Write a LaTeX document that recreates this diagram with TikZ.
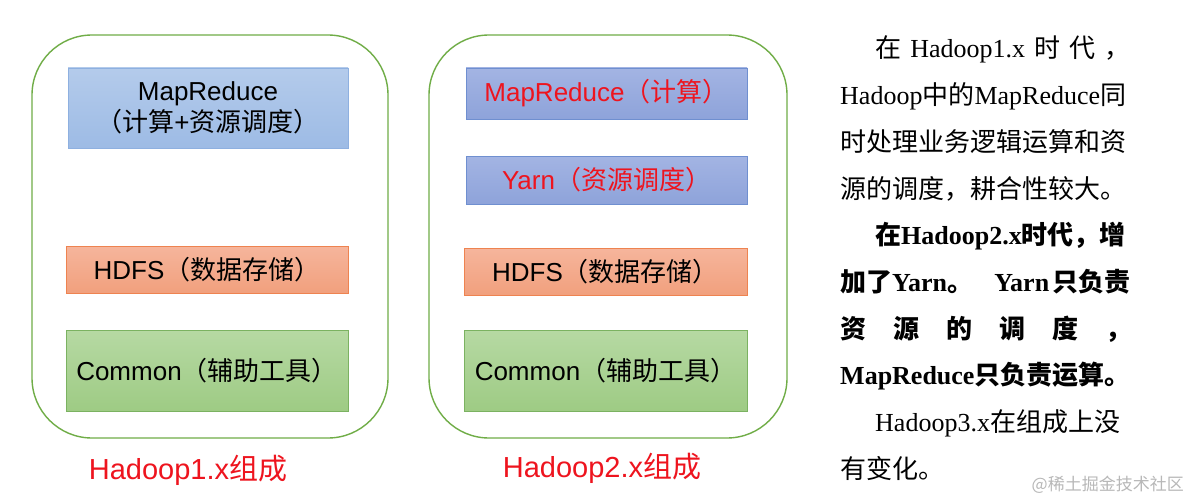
\documentclass[tikz,border=0pt]{standalone}
\usepackage{fontspec}
\setmainfont{Liberation Sans}
\newfontfamily\cjk{Noto Sans CJK SC}
\newfontfamily\tms{Liberation Serif}
\newcommand\zh[1]{{\cjk #1}}
\newcommand\zhb[1]{{\cjk\bfseries #1}}
\definecolor{outg}{HTML}{70AD47}
\definecolor{lbtop}{HTML}{B4CBEB}
\definecolor{lbbot}{HTML}{9DBBE5}
\definecolor{lbdr}{HTML}{8EB0E0}
\definecolor{dbtop}{HTML}{A3B4E3}
\definecolor{dbbot}{HTML}{8EA3DA}
\definecolor{dbdr}{HTML}{6F8FD0}
\definecolor{ortop}{HTML}{F6B59C}
\definecolor{orbot}{HTML}{F1A07D}
\definecolor{ordr}{HTML}{EE8350}
\definecolor{grtop}{HTML}{B6D9A3}
\definecolor{grbot}{HTML}{9ECB84}
\definecolor{grdr}{HTML}{7BB261}
\definecolor{redtxt}{HTML}{EE141E}
\definecolor{wmark}{HTML}{B8B8B8}
\tikzset{
  outer/.style={draw=outg, line width=1.4pt, rounded corners=60pt},
  layer/.style={draw, line width=0.9pt, inner sep=0pt, align=center,
    font=\fontsize{26}{31}\selectfont},
  lblue/.style={layer, draw=lbdr, top color=lbtop, bottom color=lbbot},
  dblue/.style={layer, draw=dbdr, top color=dbtop, bottom color=dbbot, text=redtxt},
  orng/.style={layer, draw=ordr, top color=ortop, bottom color=orbot},
  grn/.style={layer, draw=grdr, top color=grtop, bottom color=grbot},
  caption/.style={inner sep=0pt, text=redtxt, font=\fontsize{29}{31}\selectfont},
  para/.style={inner sep=0pt, anchor=west, text height=23pt, text depth=3pt,
    font=\fontsize{26}{26}\selectfont\tms},
  parab/.style={para, font=\fontsize{26}{26}\selectfont\tms\bfseries},
}
\begin{document}
\begin{tikzpicture}[x=1pt,y=-1pt]
\useasboundingbox (0,0) rectangle (1190,500);
\fill[white] (0,0) rectangle (1190,500);

% Panel 1
\draw[outer] (32,35) rectangle (388,438);
\node[lblue, minimum width=280pt, minimum height=80pt] (mr1) at (208,108)
  {MapReduce\\\zh{（计算}+\zh{资源调度）}};
\node[orng, minimum width=282pt, minimum height=47pt] (hd1) at (207,269.5)
  {HDFS\zh{（数据存储）}};
\node[grn, minimum width=282pt, minimum height=81pt] (cm1) at (207,370.5)
  {Common\zh{（辅助工具）}};
\node[caption] (cap1) at (188,470) {Hadoop1.x\zh{组成}};

% Panel 2
\draw[outer] (429,35) rectangle (787,438);
\node[dblue, minimum width=281pt, minimum height=51pt] (mr2) at (606.5,93.5)
  {MapReduce\zh{（计算）}};
\node[dblue, minimum width=281pt, minimum height=48pt] (yn2) at (606.5,180)
  {Yarn\zh{（资源调度）}};
\node[orng, minimum width=283pt, minimum height=47pt] (hd2) at (605.5,271.5)
  {HDFS\zh{（数据存储）}};
\node[grn, minimum width=283pt, minimum height=81pt] (cm2) at (605.5,370.5)
  {Common\zh{（辅助工具）}};
\node[caption] (cap2) at (602,468) {Hadoop2.x\zh{组成}};

% Right paragraph
\node[para] (t1) at (875,48)
  {\hbox to 255pt{\zh{在}\hfill Hadoop1.x\hfill\zh{时}\hfill\zh{代}\hfill\zh{，}}};
\node[para] (t2) at (840,94.7) {Hadoop\zh{中的}MapReduce\zh{同}};
\node[para] (t3) at (840,141.4) {\zh{时处理业务逻辑运算和资}};
\node[para] (t4) at (840,188.1) {\zh{源的调度，耕合性较大。}};
\node[parab] (t5) at (875,234.8) {\zhb{在}Hadoop2.x\zhb{时代，增}};
\node[parab] (t6) at (840,281.5)
  {\hbox to 290pt{\zhb{加了}Yarn\zhb{。}\hfill Yarn\kern3pt\zhb{只负责}}};
\node[parab] (t7) at (840,328.2)
  {\hbox to 291pt{\zhb{资}\hfill\zhb{源}\hfill\zhb{的}\hfill\zhb{调}\hfill\zhb{度}\hfill\zhb{，}}};
\node[parab] (t8) at (840,374.9) {MapReduce\zhb{只负责运算。}};
\node[para] (t9) at (875,421.6) {Hadoop3.x\zh{在组成上没}};
\node[para] (t10) at (840,468.3) {\zh{有变化。}};

% Watermark
\node[inner sep=0pt, anchor=east, text=wmark, font=\fontsize{17}{17}\selectfont\cjk]
  (wm) at (1184,485) {@稀土掘金技术社区};
\end{tikzpicture}
\end{document}
